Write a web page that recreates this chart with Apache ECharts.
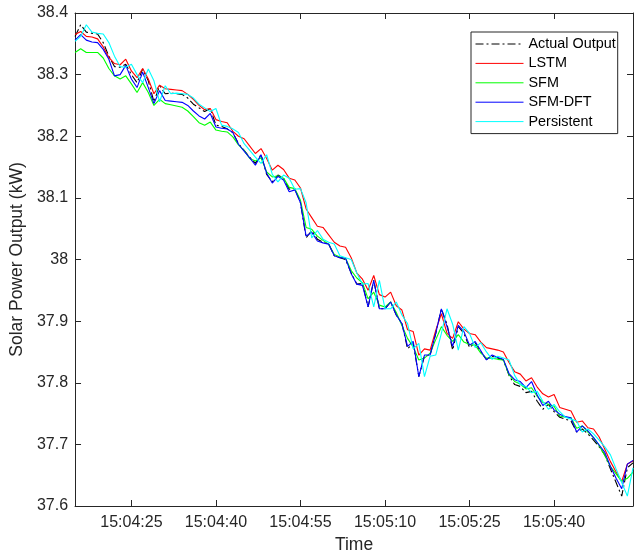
<!DOCTYPE html>
<html>
<head>
<meta charset="utf-8">
<script src="https://cdn.jsdelivr.net/npm/echarts@6/dist/echarts.min.js"></script>
<style>
html,body{margin:0;padding:0;background:#fff;}
#chart{width:634px;height:559px;}
</style>
</head>
<body>
<div id="chart"></div>
<script>
// Time axis: samples every 1 s starting at this time
const startTime = '15:04:15';
const tickTimes = ['15:04:25', '15:04:40', '15:04:55', '15:05:10', '15:05:25', '15:05:40'];
const yTicks = [37.6, 38.4, 0.1];
const seriesNames = ['Actual Output', 'LSTM', 'SFM', 'SFM-DFT', 'Persistent'];

const actual = [
38.362,38.381,38.369,38.367,38.366,38.352,38.330,38.313,38.312,38.317,
38.300,38.287,38.309,38.290,38.256,38.282,38.269,38.270,38.269,38.268,
38.262,38.252,38.246,38.240,38.245,38.218,38.216,38.212,38.206,38.188,
38.177,38.166,38.156,38.170,38.138,38.126,38.137,38.132,38.114,38.115,
38.092,38.035,38.047,38.033,38.028,38.025,38.006,38.003,38.000,37.978,
37.960,37.961,37.923,37.966,37.920,37.920,37.931,37.910,37.896,37.855,
37.864,37.810,37.843,37.845,37.880,37.920,37.895,37.853,37.891,37.880,
37.857,37.865,37.850,37.838,37.843,37.840,37.837,37.812,37.797,37.794,
37.784,37.786,37.770,37.757,37.765,37.753,37.744,37.741,37.738,37.720,
37.725,37.717,37.707,37.696,37.683,37.660,37.638,37.616,37.662,37.670];

const lstm = [
38.365,38.370,38.362,38.361,38.358,38.345,38.328,38.318,38.316,38.325,
38.306,38.295,38.310,38.293,38.269,38.283,38.277,38.276,38.275,38.274,
38.268,38.260,38.250,38.243,38.245,38.227,38.224,38.222,38.208,38.200,
38.196,38.184,38.172,38.180,38.164,38.145,38.153,38.146,38.132,38.129,
38.116,38.082,38.068,38.054,38.052,38.040,38.028,38.022,38.020,38.003,
37.978,37.968,37.950,37.974,37.943,37.939,37.947,37.925,37.918,37.886,
37.883,37.845,37.855,37.853,37.885,37.912,37.880,37.872,37.899,37.887,
37.880,37.878,37.866,37.857,37.855,37.853,37.850,37.833,37.818,37.814,
37.803,37.808,37.793,37.782,37.777,37.781,37.760,37.757,37.754,37.736,
37.738,37.727,37.725,37.712,37.692,37.672,37.655,37.640,37.668,37.673];

const sfm = [
38.336,38.342,38.336,38.336,38.336,38.327,38.310,38.298,38.293,38.298,
38.285,38.271,38.287,38.271,38.250,38.260,38.253,38.251,38.249,38.247,
38.241,38.232,38.222,38.218,38.223,38.210,38.208,38.207,38.199,38.186,
38.177,38.164,38.160,38.165,38.142,38.134,38.136,38.132,38.117,38.115,
38.096,38.052,38.049,38.038,38.031,38.025,38.008,38.004,38.002,37.982,
37.970,37.962,37.936,37.947,37.926,37.923,37.931,37.914,37.893,37.872,
37.858,37.837,37.840,37.848,37.870,37.891,37.877,37.867,37.878,37.866,
37.862,37.861,37.848,37.840,37.840,37.838,37.837,37.813,37.802,37.798,
37.790,37.792,37.778,37.768,37.765,37.762,37.746,37.744,37.743,37.726,
37.730,37.720,37.711,37.698,37.682,37.664,37.652,37.640,37.645,37.655];

const sfmDft = [
38.356,38.365,38.356,38.353,38.352,38.341,38.325,38.298,38.300,38.315,
38.293,38.279,38.304,38.279,38.253,38.274,38.258,38.257,38.256,38.255,
38.250,38.241,38.233,38.228,38.237,38.215,38.213,38.212,38.206,38.187,
38.176,38.165,38.153,38.170,38.140,38.124,38.135,38.129,38.110,38.113,
38.092,38.038,38.044,38.030,38.027,38.025,38.006,38.003,38.002,37.977,
37.960,37.958,37.923,37.966,37.920,37.920,37.931,37.910,37.896,37.859,
37.867,37.810,37.845,37.845,37.880,37.920,37.891,37.859,37.893,37.883,
37.861,37.867,37.852,37.837,37.845,37.841,37.838,37.815,37.805,37.802,
37.792,37.802,37.780,37.763,37.770,37.756,37.749,37.745,37.743,37.720,
37.730,37.722,37.711,37.699,37.687,37.664,37.645,37.628,37.668,37.674];

const persistent = [
38.354,38.362,38.381,38.369,38.367,38.366,38.352,38.330,38.313,38.312,
38.317,38.300,38.287,38.309,38.290,38.256,38.282,38.269,38.270,38.269,
38.268,38.262,38.252,38.246,38.240,38.245,38.218,38.216,38.212,38.206,
38.188,38.177,38.166,38.156,38.170,38.138,38.126,38.137,38.132,38.114,
38.115,38.092,38.035,38.047,38.033,38.028,38.025,38.006,38.003,38.000,
37.978,37.960,37.961,37.923,37.966,37.920,37.920,37.931,37.910,37.896,
37.855,37.864,37.810,37.843,37.845,37.880,37.920,37.895,37.853,37.891,
37.880,37.857,37.865,37.850,37.838,37.843,37.840,37.837,37.812,37.797,
37.794,37.784,37.786,37.770,37.757,37.765,37.753,37.744,37.741,37.738,
37.720,37.725,37.717,37.707,37.696,37.683,37.660,37.638,37.616,37.662];

function toSec(s){const p=s.split(':').map(Number);return p[0]*3600+p[1]*60+p[2];}
function fmt(v){const h=Math.floor(v/3600),m=Math.floor((v%3600)/60),s=Math.round(v%60);
  const z=n=>String(n).padStart(2,'0');return z(h)+':'+z(m)+':'+z(s);}
const t0 = toSec(startTime);
const tickVals = tickTimes.map(toSec);
const toPts = arr => arr.map((v,i)=>[t0+i, v]);

const AX = '#262626';
const FONT = 'Liberation Sans, Arial, Helvetica, sans-serif';
const xBase = {
  type:'value', min:t0, max:t0+actual.length-1,
  axisLine:{show:true, onZero:false, lineStyle:{color:AX, width:1}},
  axisTick:{show:true, inside:true, length:6, lineStyle:{color:AX}, customValues:tickVals},
  splitLine:{show:false}
};
const yBase = {
  type:'value', min:yTicks[0], max:yTicks[1], interval:yTicks[2],
  axisLine:{show:true, onZero:false, lineStyle:{color:AX, width:1}},
  axisTick:{show:true, inside:true, length:6, lineStyle:{color:AX}},
  splitLine:{show:false}
};

const colors = ['#000000','#ff0000','#00ff00','#0000ff','#00ffff'];
const datas = [actual, lstm, sfm, sfmDft, persistent];

const chart = echarts.init(document.getElementById('chart'), null, {renderer:'canvas'});
chart.setOption({
  animation:false,
  backgroundColor:'#ffffff',
  textStyle:{fontFamily:FONT},
  grid:{left:71, right:1, top:13, bottom:48, containLabel:false},
  xAxis:[
    Object.assign({}, xBase, {position:'bottom',
      name:'Time', nameLocation:'middle', nameGap:30,
      nameTextStyle:{fontSize:17.5, color:AX, fontFamily:FONT},
      axisLabel:{show:true, color:AX, fontSize:16, fontFamily:FONT, margin:9,
        customValues:tickVals, formatter:v=>fmt(v)}}),
    Object.assign({}, xBase, {position:'top', axisLabel:{show:false, customValues:tickVals}})
  ],
  yAxis:[
    Object.assign({}, yBase, {position:'left',
      name:'Solar Power Output (kW)', nameLocation:'middle', nameGap:45,
      nameTextStyle:{fontSize:17.5, color:AX, fontFamily:FONT},
      axisLabel:{show:true, color:AX, fontSize:16, fontFamily:FONT, margin:7}}),
    Object.assign({}, yBase, {position:'right', axisLabel:{show:false}})
  ],
  legend:{
    show:true, orient:'vertical', left:471, top:32,
    data:seriesNames.map(n=>({name:n})),
    itemWidth:48, itemHeight:14, itemGap:5.4,
    padding:[5,2,5,4],
    borderColor:AX, borderWidth:1, backgroundColor:'#ffffff',
    itemStyle:{opacity:0, borderWidth:0},
    lineStyle:{width:1},
    textStyle:{fontSize:14.4, color:'#000000', fontFamily:FONT}
  },
  series: seriesNames.map((n,i)=>({
    name:n, type:'line', xAxisIndex:0, yAxisIndex:0,
    data:toPts(datas[i]), showSymbol:false, symbol:'none',
    color:colors[i],
    lineStyle:{color:colors[i], width:1.1, type: i===0 ? [8,3,2,3] : 'solid'},
    z: 2+i
  }))
});
</script>
</body>
</html>
